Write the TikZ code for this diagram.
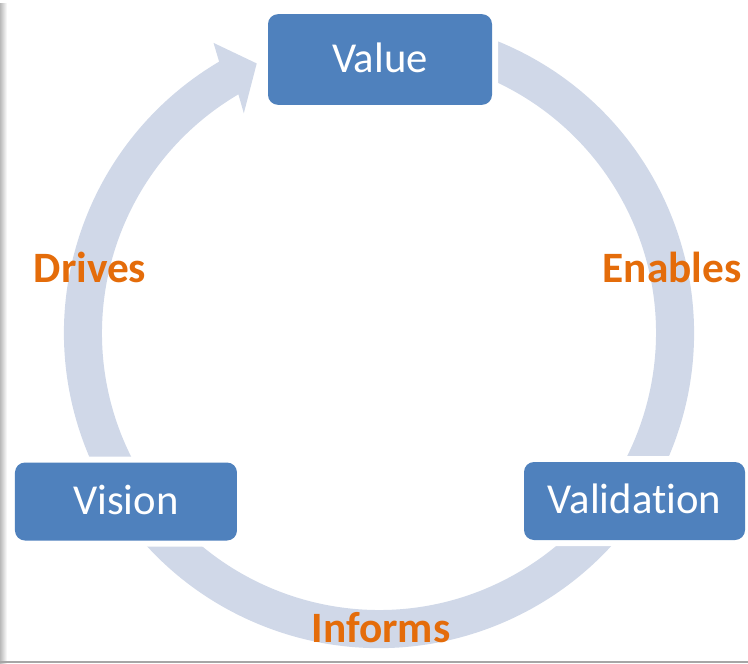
\documentclass[tikz,border=0pt]{standalone}
\usepackage{fontspec}
\setmainfont{Carlito}[Ligatures=NoCommon]
\definecolor{BoxClr}{RGB}{79,129,189}
\definecolor{RingClr}{RGB}{208,216,232}
\definecolor{LabelClr}{RGB}{228,108,10}

\begin{document}
\begin{tikzpicture}[x=0.75pt,y=0.75pt,
  box/.style={rectangle,rounded corners=7.5pt,fill=BoxClr,text=white,inner sep=0pt,
    font=\fontsize{32}{38}\selectfont,text height=24pt,text depth=4.8pt,
    preaction={draw=white,line width=9pt}},
  lbl/.style={text=LabelClr,font=\fontsize{32.5}{38}\selectfont\bfseries}]

\useasboundingbox (-379,333) rectangle (369,-330);

% page edges
\shade[left color=gray!55,right color=white] (-379,329) rectangle (-372,-330);
\fill[gray!70] (-379,-328) rectangle (369,-330);

% cycle ring, ending in an arrow head at the top
\fill[RingClr] (118,292) arc[start angle=68,end angle=-239.5,radius=315]
  -- (-240.3:334) -- (-245.6:296) -- (-238.4:258) -- (-239.5:277)
  arc[start angle=-239.5,end angle=64.8,radius=277] -- cycle;

\node[box,minimum width=168pt,minimum height=68pt] (value) at (1,273.5) {Value};
\node[box,minimum width=166.5pt,minimum height=58.5pt] (vision) at (-253,-168.5) {Vision};
\node[box,minimum width=165.75pt,minimum height=58.5pt] (validation) at (255.5,-168) {Validation};

\node[lbl] (drives) at (-289,66) {Drives};
\node[lbl] (enables) at (293,66) {Enables};
\node[lbl] (informs) at (2,-295) {Informs};

\end{tikzpicture}
\end{document}
